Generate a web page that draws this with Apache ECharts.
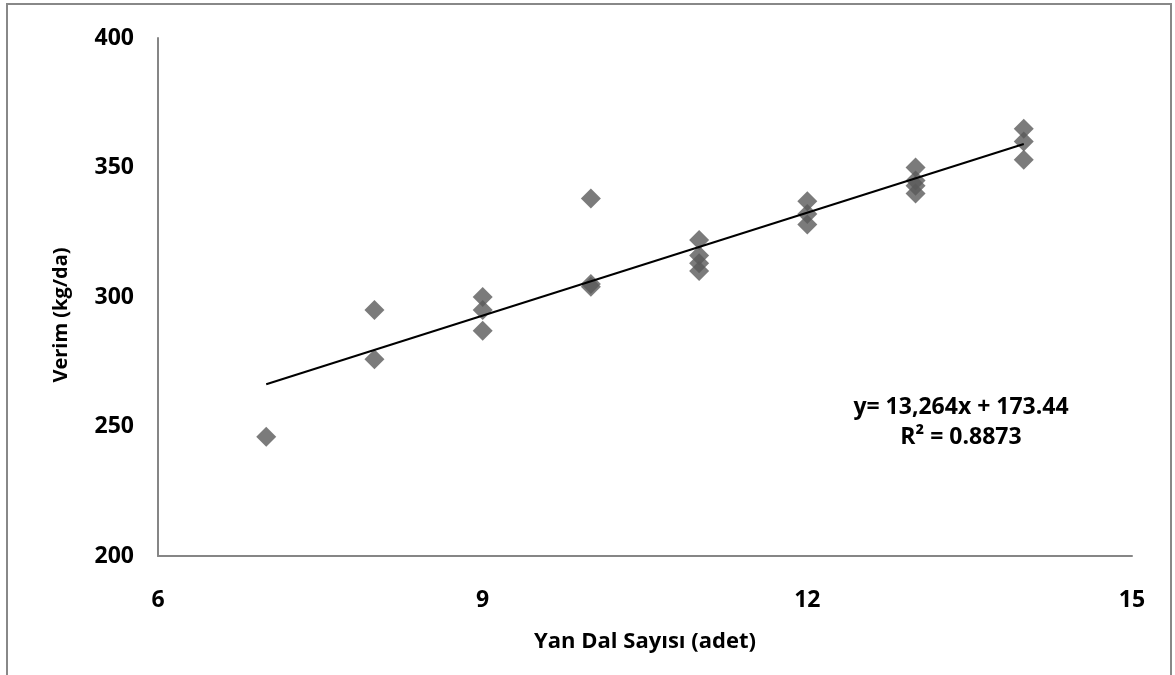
<!DOCTYPE html>
<html>
<head>
<meta charset="utf-8">
<script src="https://cdn.jsdelivr.net/npm/echarts@6/dist/echarts.min.js"></script>
<style>
html,body{margin:0;padding:0;background:#fff;}
#chart{width:1175px;height:675px;}
</style>
</head>
<body>
<div id="chart"></div>
<script>
// Observations: [Yan Dal Sayısı, Verim]
const xValues = [7, 8, 8, 9, 9, 9, 10, 10, 10, 11, 11, 11, 11, 12, 12, 12, 13, 13, 13, 13, 14, 14, 14];
const yValues = [246, 295, 276, 300, 295, 287, 338, 305, 304, 322, 316, 313, 310, 337, 332, 328, 350, 345, 343, 340, 365, 360, 353];
// Trend line end points
const trendX = [7, 14];
const trendY = [266.3, 359.1];
const xTicks = [6, 9, 12, 15];
const yTicks = [200, 250, 300, 350, 400];
const equationText = 'y= 13,264x + 173.44';
const r2Text = 'R² = 0.8873';
const xTitle = 'Yan Dal Sayısı (adet)';
const yTitle = 'Verim (kg/da)';

const points = xValues.map((x, i) => [x, yValues[i]]);
const trend = trendX.map((x, i) => [x, trendY[i]]);
const FONT = '"Open Sans"';

const chart = echarts.init(document.getElementById('chart'), null, {renderer: 'canvas'});
chart.setOption({
  backgroundColor: '#fff',
  animation: false,
  grid: {left: 158, right: 43, top: 38, bottom: 119},
  xAxis: {
    type: 'value', min: xTicks[0], max: xTicks[xTicks.length - 1], interval: 3,
    name: xTitle, nameLocation: 'middle', nameGap: 75,
    nameTextStyle: {fontFamily: FONT, fontWeight: 'bold', fontSize: 22, color: '#000'},
    axisLine: {show: true, lineStyle: {color: '#868686', width: 2}},
    axisTick: {show: false},
    splitLine: {show: false},
    axisLabel: {fontFamily: FONT, fontWeight: 'bold', fontSize: 23, color: '#000', margin: 33}
  },
  yAxis: {
    type: 'value', min: yTicks[0], max: yTicks[yTicks.length - 1], interval: 50,
    name: yTitle, nameLocation: 'middle', nameGap: 87,
    nameTextStyle: {fontFamily: FONT, fontWeight: 'bold', fontSize: 20, color: '#000', padding: [0, 36, 0, 0]},
    axisLine: {show: true, lineStyle: {color: '#868686', width: 2}},
    axisTick: {show: false},
    splitLine: {show: false},
    axisLabel: {fontFamily: FONT, fontWeight: 'bold', fontSize: 23, color: '#000', margin: 24}
  },
  series: [
    {
      type: 'line', data: trend, symbol: 'none',
      lineStyle: {color: '#000', width: 2}, z: 3
    },
    {
      type: 'scatter', data: points, symbol: 'diamond', symbolSize: 20,
      itemStyle: {color: '#5a5a5a'}, z: 2
    }
  ],
  graphic: [
    {type: 'rect', shape: {x: 7, y: 4, width: 1164, height: 700},
     style: {fill: 'none', stroke: '#888', lineWidth: 2}, silent: true},
    {type: 'text', x: 961, y: 407,
     style: {text: equationText, fontFamily: FONT, fontWeight: 'bold', fontSize: 23, fill: '#000', align: 'center', verticalAlign: 'middle'}},
    {type: 'text', x: 961, y: 437,
     style: {text: r2Text, fontFamily: FONT, fontWeight: 'bold', fontSize: 23, fill: '#000', align: 'center', verticalAlign: 'middle'}}
  ]
});
</script>
</body>
</html>
